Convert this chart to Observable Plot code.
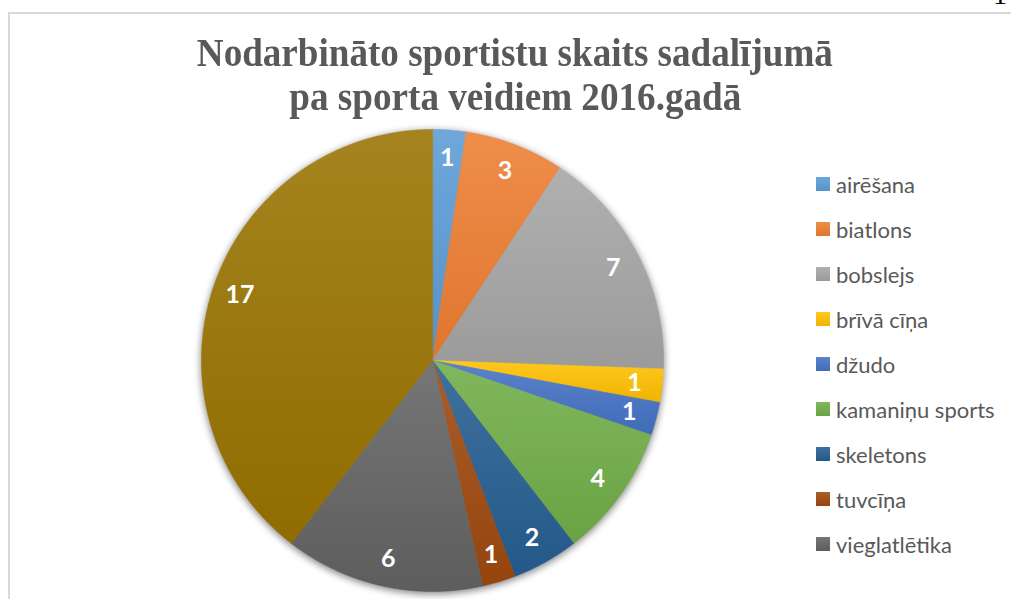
<!DOCTYPE html>
<html><head><meta charset="utf-8">
<script src="https://cdn.jsdelivr.net/npm/d3@7"></script>
<script src="https://cdn.jsdelivr.net/npm/@observablehq/plot@0.6"></script>
<style>
html,body{margin:0;padding:0;background:#fff;}
#wrap{position:relative;width:1011px;height:599px;overflow:hidden;background:#fff;}
#frame{position:absolute;left:8px;top:12px;right:-2px;bottom:-2px;border-top:2px solid #d9d9d9;border-left:2px solid #d9d9d9;}
#pagenum{position:absolute;left:993px;top:-19px;font-family:"Liberation Serif","Times New Roman",serif;font-size:28px;line-height:28px;color:#000;}
#title{position:absolute;left:0;top:31px;width:1030px;text-align:center;font-family:"Liberation Serif","Times New Roman",serif;font-weight:bold;font-size:40px;line-height:44.3px;color:#595959;}
#title .tl{display:block;white-space:nowrap;}
#title .tl span{display:inline-block;transform-origin:50% 50%;}
#chart{position:absolute;left:0;top:0;}
#legend{position:absolute;left:816px;top:161.5px;font-family:Lato,"Open Sans",sans-serif;font-size:22px;color:#595959;}
#legend .row{height:45px;display:flex;align-items:center;white-space:nowrap;}
#legend .sw{width:14px;height:14px;margin-right:6px;flex:none;}
</style></head><body>
<div id="wrap">
  <div id="frame"></div>
  <div id="pagenum">1</div>
  <div id="title"></div>
  <div id="chart"></div>
  <div id="legend"></div>
</div>
<script>
// ---- data ----
const titleLines = ["Nodarbināto sportistu skaits sadalījumā", "pa sporta veidiem 2016.gadā"];
const categories = ["airēšana","biatlons","bobslejs","brīvā cīņa","džudo","kamaniņu sports","skeletons","tuvcīņa","vieglatlētika","citi"];
const values = [1, 3, 7, 1, 1, 4, 2, 1, 6, 17];
const colors = ["#5b9bd5","#ed7d31","#a5a5a5","#ffc000","#4472c4","#70ad47","#255e91","#9e480e","#636363","#997300"];
const legendCategories = categories.slice(0, 9);

// ---- layout constants ----
const W = 1011, H = 599, cx = 432, cy = 360, R = 231, labelK = 0.88;

// ---- title ----
const titleEl = document.getElementById("title");
const titleWidths = [636, 452];
titleLines.forEach((t, i) => {
  const d = document.createElement("div"); d.className = "tl";
  const s = document.createElement("span"); s.textContent = t;
  d.appendChild(s); titleEl.appendChild(d);
});

// ---- pie geometry from data ----
const rows = categories.map((c, i) => ({category: c, value: values[i], color: colors[i]}));
const arcs = d3.pie().sort(null).value(d => d.value)(rows);
const pts = [];
arcs.forEach(a => {
  const c = a.data.category;
  pts.push({category: c, x: 0, y: 0});
  const n = Math.max(2, Math.ceil((a.endAngle - a.startAngle) / (Math.PI / 720)));
  for (let k = 0; k <= n; k++) {
    const t = a.startAngle + (a.endAngle - a.startAngle) * k / n;
    pts.push({category: c, x: Math.sin(t), y: Math.cos(t)});
  }
});
const labels = arcs.map(a => {
  const m = (a.startAngle + a.endAngle) / 2;
  return {category: a.data.category, value: a.data.value, x: labelK * Math.sin(m), y: labelK * Math.cos(m)};
});

const svg = Plot.plot({
  width: W, height: H,
  marginTop: 0, marginRight: 0, marginBottom: 0, marginLeft: 0,
  x: {domain: [-1, 1], range: [cx - R, cx + R], axis: null},
  y: {domain: [-1, 1], range: [cy + R, cy - R], axis: null},
  color: {domain: categories, range: colors},
  style: {background: "transparent", overflow: "visible"},
  marks: [
    Plot.dot([{x: 0, y: 0}], {x: "x", y: "y", r: R + 1, fill: "#000", fillOpacity: 0.45, stroke: "none", dy: 2, className: "pie-shadow"}),
    Plot.line(pts, {x: "x", y: "y", z: "category", fill: "category", stroke: "category", strokeWidth: 0.6, curve: "linear-closed"}),
    Plot.text(labels, {x: "x", y: "y", text: d => String(d.value), fill: "white", fontSize: 25, fontWeight: "bold", fontFamily: "Lato, 'Open Sans', sans-serif"})
  ]
});
document.getElementById("chart").appendChild(svg);

// ---- styling: gradient fills + shadow ----
const ns = "http://www.w3.org/2000/svg";
const defs = document.createElementNS(ns, "defs");
const filter = document.createElementNS(ns, "filter");
filter.setAttribute("id", "pieBlur");
filter.setAttribute("x", "-10%"); filter.setAttribute("y", "-10%");
filter.setAttribute("width", "120%"); filter.setAttribute("height", "120%");
const gb = document.createElementNS(ns, "feGaussianBlur");
gb.setAttribute("stdDeviation", "3.5");
filter.appendChild(gb); defs.appendChild(filter);
const gradId = {};
colors.forEach((c, i) => {
  const g = document.createElementNS(ns, "linearGradient");
  g.setAttribute("id", "g" + i);
  g.setAttribute("x1", "0"); g.setAttribute("y1", "0"); g.setAttribute("x2", "0"); g.setAttribute("y2", "1");
  const s0 = document.createElementNS(ns, "stop");
  s0.setAttribute("offset", "0"); s0.setAttribute("stop-color", d3.interpolateRgb(c, "#ffffff")(0.12));
  const s1 = document.createElementNS(ns, "stop");
  s1.setAttribute("offset", "1"); s1.setAttribute("stop-color", d3.interpolateRgb(c, "#000000")(0.06));
  g.appendChild(s0); g.appendChild(s1); defs.appendChild(g);
  gradId[d3.color(c).formatHex()] = "url(#g" + i + ")";
});
svg.insertBefore(defs, svg.firstChild);
const shadowG = svg.querySelector("g.pie-shadow") || svg.querySelector('g[aria-label="dot"]');
if (shadowG) shadowG.setAttribute("filter", "url(#pieBlur)");
const lineG = svg.querySelector('g[aria-label="line"]');
if (lineG) {
  lineG.querySelectorAll("path").forEach(p => {
    const f = p.getAttribute("fill");
    if (f && d3.color(f)) {
      const u = gradId[d3.color(f).formatHex()];
      if (u) { p.setAttribute("fill", u); p.setAttribute("stroke", u); }
    }
  });
}

// ---- legend ----
const leg = document.getElementById("legend");
legendCategories.forEach(c => {
  const r = document.createElement("div"); r.className = "row";
  const sw = document.createElement("div"); sw.className = "sw";
  const col = colors[categories.indexOf(c)];
  sw.style.background = `linear-gradient(${d3.interpolateRgb(col, "#fff")(0.12)}, ${d3.interpolateRgb(col, "#000")(0.06)})`;
  const tx = document.createElement("span"); tx.textContent = c;
  r.appendChild(sw); r.appendChild(tx); leg.appendChild(r);
});

// ---- fit title widths ----
titleEl.querySelectorAll(".tl span").forEach((s, i) => {
  const w = s.getBoundingClientRect().width;
  if (w > 0) s.style.transform = `scaleX(${titleWidths[i] / w})`;
});
</script>
</body></html>
